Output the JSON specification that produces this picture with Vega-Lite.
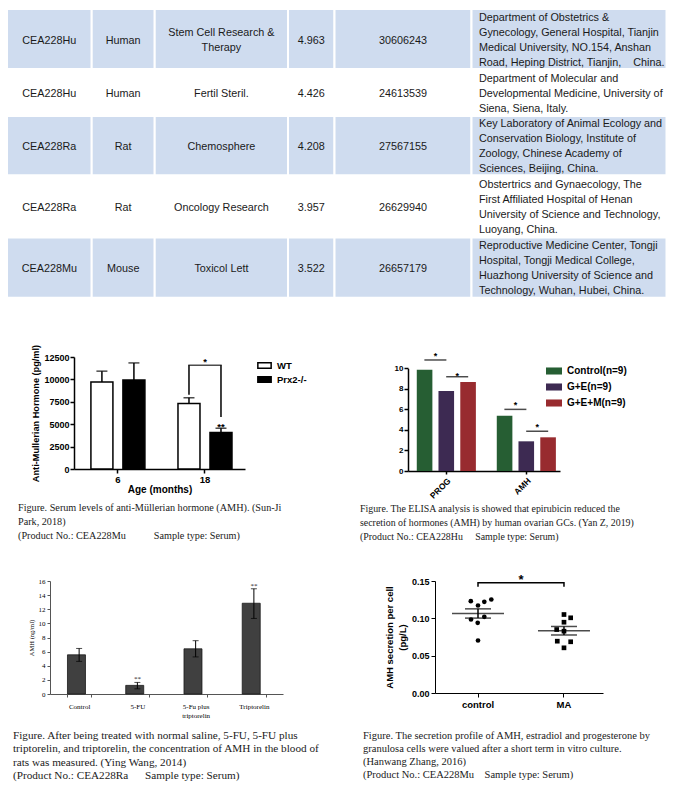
{
  "$schema": "https://vega.github.io/schema/vega-lite/v6.json",
  "background": "white",
  "padding": {"left": 6, "top": 8, "right": 0, "bottom": 0},
  "spacing": 31,
  "resolve": {"legend": {"fill": "independent", "color": "independent", "shape": "independent"}},
  "config": {
    "view": {"stroke": null},
    "axis": {"grid": false, "labelOverlap": false, "domainColor": "black", "tickColor": "black", "labelColor": "black", "titleColor": "black", "labelFont": "Liberation Sans", "titleFont": "Liberation Sans"},
    "legend": {"labelFont": "Liberation Sans", "labelColor": "black"},
    "title": {"font": "Liberation Serif", "fontWeight": "normal", "color": "#1a1a1a", "fontSize": 10.5, "lineHeight": 14, "orient": "bottom", "anchor": "start", "frame": "group"}
  },
  "datasets": {
    "tcols": [
      {"col": 1, "x0": 0, "x1": 84.7, "xt": 42.3},
      {"col": 2, "x0": 84.7, "x1": 147.7, "xt": 116.2},
      {"col": 3, "x0": 147.7, "x1": 281, "xt": 214.4},
      {"col": 4, "x0": 281, "x1": 327.5, "xt": 304.3},
      {"col": 5, "x0": 327.5, "x1": 464.5, "xt": 396},
      {"col": 6, "x0": 464.5, "x1": 659.5, "xt": 472}
    ],
    "trows": [
      {"row": 1, "y0": 0, "y1": 60, "yt": 31.7},
      {"row": 2, "y0": 60, "y1": 107, "yt": 84.5},
      {"row": 3, "y0": 107, "y1": 166.3, "yt": 137.5},
      {"row": 4, "y0": 166.3, "y1": 228.5, "yt": 198.5},
      {"row": 5, "y0": 228.5, "y1": 288.8, "yt": 259.5}
    ],
    "cells": [
      {"row": 1, "col": 1, "text": "CEA228Hu"},
      {"row": 1, "col": 2, "text": "Human"},
      {"row": 1, "col": 3, "text": ["Stem Cell Research &", "Therapy"]},
      {"row": 1, "col": 4, "text": "4.963"},
      {"row": 1, "col": 5, "text": "30606243"},
      {"row": 1, "col": 6, "text": ["Department of Obstetrics &", "Gynecology, General Hospital, Tianjin", "Medical University, NO.154, Anshan", "Road, Heping District, Tianjin,\u00a0\u00a0\u00a0\u00a0China."]},
      {"row": 2, "col": 1, "text": "CEA228Hu"},
      {"row": 2, "col": 2, "text": "Human"},
      {"row": 2, "col": 3, "text": "Fertil Steril."},
      {"row": 2, "col": 4, "text": "4.426"},
      {"row": 2, "col": 5, "text": "24613539"},
      {"row": 2, "col": 6, "text": ["Department of Molecular and", "Developmental Medicine, University of", "Siena, Siena, Italy."]},
      {"row": 3, "col": 1, "text": "CEA228Ra"},
      {"row": 3, "col": 2, "text": "Rat"},
      {"row": 3, "col": 3, "text": "Chemosphere"},
      {"row": 3, "col": 4, "text": "4.208"},
      {"row": 3, "col": 5, "text": "27567155"},
      {"row": 3, "col": 6, "text": ["Key Laboratory of Animal Ecology and", "Conservation Biology, Institute of", "Zoology, Chinese Academy of", "Sciences, Beijing, China."]},
      {"row": 4, "col": 1, "text": "CEA228Ra"},
      {"row": 4, "col": 2, "text": "Rat"},
      {"row": 4, "col": 3, "text": "Oncology Research"},
      {"row": 4, "col": 4, "text": "3.957"},
      {"row": 4, "col": 5, "text": "26629940"},
      {"row": 4, "col": 6, "text": ["Obstertrics and Gynaecology, The", "First Affiliated Hospital of Henan", "University of Science and Technology,", "Luoyang, China."]},
      {"row": 5, "col": 1, "text": "CEA228Mu"},
      {"row": 5, "col": 2, "text": "Mouse"},
      {"row": 5, "col": 3, "text": "Toxicol Lett"},
      {"row": 5, "col": 4, "text": "3.522"},
      {"row": 5, "col": 5, "text": "26657179"},
      {"row": 5, "col": 6, "text": ["Reproductive Medicine Center, Tongji", "Hospital, Tongji Medical College,", "Huazhong University of Science and", "Technology, Wuhan, Hubei, China."]}
    ],
    "c1": [
      {"age": "6", "group": "WT", "value": 9700, "upper": 10920},
      {"age": "6", "group": "Prx2-/-", "value": 9920, "upper": 11840},
      {"age": "18", "group": "WT", "value": 7320, "upper": 7950},
      {"age": "18", "group": "Prx2-/-", "value": 4070, "upper": 4550}
    ],
    "c1br": [
      {"age": "18", "group": "WT", "lo": 8274, "hi": 11585},
      {"age": "18", "group": "Prx2-/-", "lo": 5803, "hi": 11585}
    ],
    "c1star": [{"age": "18", "txt": "*", "v": 12169}],
    "c1star2": [{"age": "18", "group": "Prx2-/-", "txt": "**", "v": 4998}],
    "c2": [
      {"hormone": "PROG", "group": "Control(n=9)", "value": 9.85},
      {"hormone": "PROG", "group": "G+E(n=9)", "value": 7.8},
      {"hormone": "PROG", "group": "G+E+M(n=9)", "value": 8.66},
      {"hormone": "AMH", "group": "Control(n=9)", "value": 5.37},
      {"hormone": "AMH", "group": "G+E(n=9)", "value": 2.89},
      {"hormone": "AMH", "group": "G+E+M(n=9)", "value": 3.28}
    ],
    "c2sig": [
      {"hormone": "PROG", "side": "L", "v": 10.81, "star": 11.46},
      {"hormone": "PROG", "side": "R", "v": 9.18, "star": 9.5},
      {"hormone": "AMH", "side": "L", "v": 6.0, "star": 6.68},
      {"hormone": "AMH", "side": "R", "v": 3.88, "star": 4.46}
    ],
    "c3": [
      {"treat": "Control", "value": 5.55, "lo": 4.62, "hi": 6.45},
      {"treat": "5-FU", "value": 1.22, "lo": 0.73, "hi": 1.64},
      {"treat": "5-Fu plus triptorelin", "value": 6.4, "lo": 5.25, "hi": 7.55},
      {"treat": "Triptorelin", "value": 12.85, "lo": 10.7, "hi": 14.9}
    ],
    "c3star": [
      {"treat": "5-FU", "txt": "**", "v": 2.3},
      {"treat": "Triptorelin", "txt": "**", "v": 15.6}
    ],
    "c4pts": [
      {"grp": "control", "jit": -7.2, "v": 0.1230},
      {"grp": "control", "jit": 0, "v": 0.1172},
      {"grp": "control", "jit": 6.3, "v": 0.1221},
      {"grp": "control", "jit": 13.3, "v": 0.1252},
      {"grp": "control", "jit": -7, "v": 0.0984},
      {"grp": "control", "jit": -0.3, "v": 0.0940},
      {"grp": "control", "jit": 6.3, "v": 0.1020},
      {"grp": "control", "jit": 0, "v": 0.0703},
      {"grp": "MA", "jit": 0, "v": 0.1051},
      {"grp": "MA", "jit": 6.7, "v": 0.1007},
      {"grp": "MA", "jit": 0, "v": 0.0948},
      {"grp": "MA", "jit": -7.3, "v": 0.0850},
      {"grp": "MA", "jit": 0, "v": 0.0828},
      {"grp": "MA", "jit": -6.7, "v": 0.0694},
      {"grp": "MA", "jit": 6.7, "v": 0.0686},
      {"grp": "MA", "jit": 0, "v": 0.0605}
    ],
    "c4stats": [
      {"grp": "control", "mean": 0.1065, "lo": 0.1003, "hi": 0.1127},
      {"grp": "MA", "mean": 0.0834, "lo": 0.0777, "hi": 0.0891}
    ],
    "c4br": [
      {"grp": "control", "v": 0.1422, "ord": 1},
      {"grp": "control", "v": 0.1476, "ord": 2},
      {"grp": "MA", "v": 0.1476, "ord": 3},
      {"grp": "MA", "v": 0.1422, "ord": 4}
    ],
    "c4star": [{"grp": "control", "txt": "*", "v": 0.1564}]
  },
  "vconcat": [
    {
      "width": 616,
      "height": 304,
      "data": {"name": "cells"},
      "transform": [
        {"lookup": "col", "from": {"data": {"name": "tcols"}, "key": "col", "fields": ["x0", "x1", "xt"]}},
        {"lookup": "row", "from": {"data": {"name": "trows"}, "key": "row", "fields": ["y0", "y1", "yt"]}},
        {"calculate": "datum.yt - (isArray(datum.text) ? (length(datum.text) - 1) * 7.5 : 0)", "as": "ytop"}
      ],
      "encoding": {
        "x": {"field": "x0", "type": "quantitative", "scale": {"domain": [43, 659], "nice": false, "zero": false}, "axis": null},
        "y": {"field": "y0", "type": "quantitative", "scale": {"domain": [0, 304], "reverse": true, "nice": false, "zero": false}, "axis": null}
      },
      "layer": [
        {
          "transform": [{"filter": "datum.row % 2 == 1"}],
          "mark": {"type": "rect", "fill": "#cfdcef", "stroke": "white", "strokeWidth": 2},
          "encoding": {"x2": {"field": "x1"}, "y2": {"field": "y1"}}
        },
        {
          "transform": [{"filter": "datum.col < 6"}],
          "mark": {"type": "text", "align": "center", "baseline": "middle", "font": "Liberation Sans", "fontSize": 10.8, "lineHeight": 15, "color": "#1a1a1a"},
          "encoding": {
            "x": {"field": "xt", "type": "quantitative"},
            "y": {"field": "ytop", "type": "quantitative"},
            "text": {"field": "text"}
          }
        },
        {
          "transform": [{"filter": "datum.col == 6"}],
          "mark": {"type": "text", "align": "left", "baseline": "middle", "font": "Liberation Sans", "fontSize": 10.8, "lineHeight": 15, "color": "#1a1a1a"},
          "encoding": {
            "x": {"field": "xt", "type": "quantitative"},
            "y": {"field": "ytop", "type": "quantitative"},
            "text": {"field": "text"}
          }
        }
      ]
    },
    {
      "resolve": {"legend": {"fill": "independent", "color": "independent"}},
      "hconcat": [
        {
          "width": 195,
          "height": 112,
          "title": {"text": ["Figure. Serum levels of anti-Müllerian hormone (AMH). (Sun-Ji", "Park, 2018)", "(Product No.: CEA228Mu\u00a0\u00a0\u00a0\u00a0\u00a0\u00a0\u00a0\u00a0\u00a0\u00a0\u00a0Sample type: Serum)"], "dx": -32, "offset": 8, "fontSize": 10.2},
          "encoding": {
            "x": {"field": "age", "type": "nominal", "scale": {"type": "band", "domain": ["6", "18"], "range": [24, 195], "paddingInner": 0.356, "paddingOuter": 0.16, "align": 0.57},
              "axis": {"title": "Age (months)", "labelAngle": 0, "labelFontSize": 9.5, "labelFontWeight": "bold", "titleFontSize": 10, "titleFontWeight": "bold", "tickSize": 4, "tickWidth": 1.5, "domainWidth": 1.5, "labelPadding": 1, "titlePadding": 1}}
          },
          "layer": [
            {
              "data": {"name": "c1"},
              "transform": [{"filter": "datum.group == 'WT'"}],
              "mark": {"type": "bar", "width": 22, "xOffset": -16, "stroke": "black", "strokeWidth": 1.5},
              "encoding": {
                "y": {"field": "value", "type": "quantitative", "scale": {"domain": [0, 12500], "nice": false},
                  "axis": {"values": [0, 2500, 5000, 7500, 10000, 12500], "tickCount": 20, "format": "d", "offset": -24, "title": "Anti-Mullerian Hormone (pg/ml)", "titleFontSize": 9.2, "titleFontWeight": "bold", "labelFontSize": 9, "labelFontWeight": "bold", "tickSize": 4, "tickWidth": 1.5, "domainWidth": 1.5, "labelPadding": 1, "titlePadding": 3}},
                "fill": {"field": "group", "type": "nominal", "scale": {"domain": ["WT", "Prx2-/-"], "range": ["white", "black"]},
                  "legend": {"orient": "none", "legendX": 207, "legendY": 1, "title": null, "symbolType": "M-1,-0.42H1V0.42H-1Z", "symbolSize": 177, "symbolStrokeColor": "black", "symbolStrokeWidth": 1.5, "labelFontSize": 9.5, "labelFontWeight": "bold", "labelOffset": 5, "rowPadding": 0, "padding": 0}}
              }
            },
            {
              "data": {"name": "c1"},
              "transform": [{"filter": "datum.group == 'Prx2-/-'"}],
              "mark": {"type": "bar", "width": 22, "xOffset": 16, "stroke": "black", "strokeWidth": 1.5},
              "encoding": {
                "y": {"field": "value", "type": "quantitative"},
                "fill": {"field": "group", "type": "nominal"}
              }
            },
            {
              "data": {"name": "c1"},
              "transform": [{"filter": "datum.group == 'WT'"}],
              "mark": {"type": "rule", "xOffset": -16, "color": "black", "strokeWidth": 1.5},
              "encoding": {"y": {"field": "value", "type": "quantitative"}, "y2": {"field": "upper"}}
            },
            {
              "data": {"name": "c1"},
              "transform": [{"filter": "datum.group == 'Prx2-/-'"}],
              "mark": {"type": "rule", "xOffset": 16, "color": "black", "strokeWidth": 1.5},
              "encoding": {"y": {"field": "value", "type": "quantitative"}, "y2": {"field": "upper"}}
            },
            {
              "data": {"name": "c1"},
              "transform": [{"filter": "datum.group == 'WT'"}],
              "mark": {"type": "tick", "xOffset": -16, "color": "black", "size": 11, "thickness": 1.5},
              "encoding": {"y": {"field": "upper", "type": "quantitative"}}
            },
            {
              "data": {"name": "c1"},
              "transform": [{"filter": "datum.group == 'Prx2-/-'"}],
              "mark": {"type": "tick", "xOffset": 16, "color": "black", "size": 11, "thickness": 1.5},
              "encoding": {"y": {"field": "upper", "type": "quantitative"}}
            },
            {
              "data": {"name": "c1br"},
              "transform": [{"filter": "datum.group == 'WT'"}],
              "mark": {"type": "rule", "xOffset": -16, "color": "black", "strokeWidth": 1.5},
              "encoding": {"y": {"field": "lo", "type": "quantitative"}, "y2": {"field": "hi"}}
            },
            {
              "data": {"name": "c1br"},
              "transform": [{"filter": "datum.group == 'Prx2-/-'"}],
              "mark": {"type": "rule", "xOffset": 16, "color": "black", "strokeWidth": 1.5},
              "encoding": {"y": {"field": "lo", "type": "quantitative"}, "y2": {"field": "hi"}}
            },
            {
              "data": {"name": "c1br"},
              "transform": [{"filter": "datum.group == 'WT'"}],
              "mark": {"type": "tick", "color": "black", "size": 33.5, "thickness": 1.5},
              "encoding": {"y": {"field": "hi", "type": "quantitative"}}
            },
            {
              "data": {"name": "c1star"},
              "mark": {"type": "text", "font": "Liberation Sans", "fontSize": 9.5, "fontWeight": "bold", "baseline": "alphabetic", "dy": 5.4, "color": "black", "fill": "black"},
              "encoding": {
                "y": {"field": "v", "type": "quantitative"},
                "text": {"field": "txt"}
              }
            },
            {
              "data": {"name": "c1star2"},
              "mark": {"type": "text", "xOffset": 16, "font": "Liberation Sans", "fontSize": 9.5, "fontWeight": "bold", "baseline": "alphabetic", "dy": 5.4, "color": "black", "fill": "black"},
              "encoding": {
                "y": {"field": "v", "type": "quantitative"},
                "text": {"field": "txt"}
              }
            }
          ]
        },
        {
          "width": 152,
          "height": 114,
          "title": {"text": ["Figure. The ELISA analysis is showed that epirubicin reduced the", "secretion of hormones (AMH) by human ovarian GCs. (Yan Z, 2019)", "(Product No.: CEA228Hu\u00a0\u00a0\u00a0\u00a0\u00a0Sample type: Serum)"], "dx": -48, "offset": 4, "fontSize": 9.9},
          "encoding": {
            "x": {"field": "hormone", "type": "nominal", "scale": {"type": "band", "domain": ["PROG", "AMH"], "paddingInner": 0.25, "paddingOuter": 0.075, "align": 0.69},
              "axis": {"title": null, "labelAngle": -45, "labelFontSize": 8.5, "labelFontWeight": "bold", "tickSize": 3, "tickWidth": 1.5, "domainWidth": 1.5, "labelPadding": 2}}
          },
          "layer": [
            {
              "data": {"name": "c2"},
              "transform": [{"filter": "datum.group == 'Control(n=9)'"}],
              "mark": {"type": "bar", "width": 15.6, "xOffset": -21.7},
              "encoding": {
                "y": {"field": "value", "type": "quantitative", "stack": null, "scale": {"domain": [0, 10], "range": [114, 11.3], "nice": false},
                  "axis": {"values": [0, 2, 4, 6, 8, 10], "tickCount": 20, "format": "d", "title": null, "labelFontSize": 8, "labelFontWeight": "bold", "tickSize": 4, "tickWidth": 1.5, "domainWidth": 1.5, "labelPadding": 1}},
                "color": {"field": "group", "type": "nominal", "scale": {"domain": ["Control(n=9)", "G+E(n=9)", "G+E+M(n=9)"], "range": ["#265e33", "#3d2a52", "#982b2f"]},
                  "legend": {"orient": "none", "legendX": 138, "legendY": 6, "title": null, "symbolType": "M-1,-0.44H1V0.44H-1Z", "symbolSize": 256, "symbolStrokeWidth": 0, "labelFontSize": 10, "labelFontWeight": "bold", "labelOffset": 5, "rowPadding": 3, "padding": 0}}
              }
            },
            {
              "data": {"name": "c2"},
              "transform": [{"filter": "datum.group == 'G+E(n=9)'"}],
              "mark": {"type": "bar", "width": 15.6, "xOffset": 0},
              "encoding": {
                "y": {"field": "value", "type": "quantitative", "stack": null},
                "color": {"field": "group", "type": "nominal"}
              }
            },
            {
              "data": {"name": "c2"},
              "transform": [{"filter": "datum.group == 'G+E+M(n=9)'"}],
              "mark": {"type": "bar", "width": 15.6, "xOffset": 21.8},
              "encoding": {
                "y": {"field": "value", "type": "quantitative", "stack": null},
                "color": {"field": "group", "type": "nominal"}
              }
            },
            {
              "data": {"name": "c2sig"},
              "transform": [{"filter": "datum.side == 'L'"}],
              "mark": {"type": "tick", "xOffset": -10.9, "size": 22, "thickness": 1.5, "color": "black"},
              "encoding": {"y": {"field": "v", "type": "quantitative"}}
            },
            {
              "data": {"name": "c2sig"},
              "transform": [{"filter": "datum.side == 'R'"}],
              "mark": {"type": "tick", "xOffset": 10.9, "size": 22, "thickness": 1.5, "color": "black"},
              "encoding": {"y": {"field": "v", "type": "quantitative"}}
            },
            {
              "data": {"name": "c2sig"},
              "transform": [{"filter": "datum.side == 'L'"}],
              "mark": {"type": "text", "text": "*", "xOffset": -10.9, "font": "Liberation Sans", "fontSize": 9, "fontWeight": "bold", "baseline": "alphabetic", "dy": 5.2, "color": "black", "fill": "black"},
              "encoding": {"y": {"field": "star", "type": "quantitative"}}
            },
            {
              "data": {"name": "c2sig"},
              "transform": [{"filter": "datum.side == 'R'"}],
              "mark": {"type": "text", "text": "*", "xOffset": 10.9, "font": "Liberation Sans", "fontSize": 9, "fontWeight": "bold", "baseline": "alphabetic", "dy": 5.2, "color": "black", "fill": "black"},
              "encoding": {"y": {"field": "star", "type": "quantitative"}}
            }
          ]
        }
      ],
      "spacing": 163,
      "bounds": "flush"
    },
    {
      "resolve": {"legend": {"shape": "independent"}},
      "hconcat": [
        {
          "width": 233,
          "height": 113,
          "title": {"text": ["Figure. After being treated with normal saline, 5-FU, 5-FU plus", "triptorelin, and triptorelin, the concentration of AMH in the blood of", "rats was measured. (Ying Wang, 2014)", "(Product No.: CEA228Ra\u00a0\u00a0\u00a0\u00a0\u00a0\u00a0Sample type: Serum)"], "dx": -37, "offset": 12, "lineHeight": 13.3, "fontSize": 11.2},
          "layer": [
            {
              "data": {"name": "c3"},
              "mark": {"type": "bar", "fill": "#404040", "stroke": "#1a1a1a", "strokeWidth": 0.8},
              "encoding": {
                "x": {"field": "treat", "type": "nominal", "scale": {"type": "band", "domain": ["Control", "5-FU", "5-Fu plus triptorelin", "Triptorelin"], "paddingInner": 0.6, "paddingOuter": 0.3},
                  "axis": {"title": null, "labelAngle": 0, "labelFont": "Liberation Serif", "labelFontSize": 7, "tickBand": "extent", "tickSize": 3, "labelPadding": 5, "domainColor": "#555", "tickColor": "#555", "domainWidth": 1, "labelLineHeight": 9,
                    "labelExpr": "datum.label == '5-Fu plus triptorelin' ? ['5-Fu plus', 'triptorelin'] : datum.label"}},
                "y": {"field": "value", "type": "quantitative", "scale": {"domain": [0, 16], "nice": false},
                  "axis": {"values": [0, 2, 4, 6, 8, 10, 12, 14, 16], "tickCount": 20, "title": "AMH (ng/ml)", "titleFont": "Liberation Serif", "titleFontSize": 6.5, "titleFontWeight": "normal", "labelFont": "Liberation Serif", "labelFontSize": 7, "tickSize": 3, "domainColor": "#555", "tickColor": "#555", "labelPadding": 2, "titlePadding": 4}}
              }
            },
            {
              "data": {"name": "c3"},
              "mark": {"type": "rule", "color": "black", "strokeWidth": 1},
              "encoding": {
                "x": {"field": "treat", "type": "nominal"},
                "y": {"field": "lo", "type": "quantitative"},
                "y2": {"field": "hi"}
              }
            },
            {
              "data": {"name": "c3"},
              "mark": {"type": "tick", "color": "black", "size": 6, "thickness": 1},
              "encoding": {
                "x": {"field": "treat", "type": "nominal"},
                "y": {"field": "hi", "type": "quantitative"}
              }
            },
            {
              "data": {"name": "c3"},
              "mark": {"type": "tick", "color": "black", "size": 6, "thickness": 1},
              "encoding": {
                "x": {"field": "treat", "type": "nominal"},
                "y": {"field": "lo", "type": "quantitative"}
              }
            },
            {
              "data": {"name": "c3star"},
              "mark": {"type": "text", "font": "Liberation Serif", "fontSize": 7, "baseline": "alphabetic", "dy": 3.7, "color": "#222", "fill": "#222"},
              "encoding": {
                "x": {"field": "treat", "type": "nominal"},
                "y": {"field": "v", "type": "quantitative"},
                "text": {"field": "txt"}
              }
            }
          ]
        },
        {
          "width": 168,
          "height": 112,
          "title": {"text": ["Figure. The secretion profile of AMH, estradiol and progesterone by", "granulosa cells were valued after a short term in vitro culture.", "(Hanwang Zhang, 2016)", "(Product No.: CEA228Mu\u00a0\u00a0\u00a0\u00a0Sample type: Serum)"], "dx": -72, "offset": 22, "lineHeight": 13.3, "fontSize": 10.5},
          "layer": [
            {
              "data": {"name": "c4pts"},
              "mark": {"type": "point", "filled": true, "size": 22, "color": "black", "opacity": 1},
              "encoding": {
                "x": {"field": "grp", "type": "nominal", "scale": {"type": "band", "domain": ["control", "MA"], "paddingInner": 0.5, "paddingOuter": 0.227, "align": 0.551},
                  "axis": {"title": null, "labelAngle": 0, "labelFontSize": 9.5, "labelFontWeight": "bold", "tickSize": 4, "domainWidth": 1, "labelPadding": 2}},
                "xOffset": {"field": "jit", "type": "quantitative", "scale": {"domain": [-21.5, 21.5], "range": [0, 43]}},
                "y": {"field": "v", "type": "quantitative", "scale": {"domain": [0, 0.15], "nice": false},
                  "axis": {"values": [0, 0.05, 0.1, 0.15], "tickCount": 20, "format": ".2f", "title": ["AMH secretion per cell", "(pg/L)"], "titleFontSize": 9.5, "titleFontWeight": "bold", "titleLineHeight": 13, "labelFontSize": 9, "labelFontWeight": "bold", "tickSize": 4, "labelPadding": 2, "titlePadding": 4}},
                "shape": {"field": "grp", "type": "nominal", "scale": {"domain": ["control", "MA"], "range": ["circle", "square"]}, "legend": null}
              }
            },
            {
              "data": {"name": "c4stats"},
              "mark": {"type": "tick", "color": "black", "size": 52, "thickness": 1.5},
              "encoding": {
                "x": {"field": "grp", "type": "nominal"},
                "y": {"field": "mean", "type": "quantitative"}
              }
            },
            {
              "data": {"name": "c4stats"},
              "mark": {"type": "tick", "color": "black", "size": 26, "thickness": 1.5},
              "encoding": {
                "x": {"field": "grp", "type": "nominal"},
                "y": {"field": "lo", "type": "quantitative"}
              }
            },
            {
              "data": {"name": "c4stats"},
              "mark": {"type": "tick", "color": "black", "size": 26, "thickness": 1.5},
              "encoding": {
                "x": {"field": "grp", "type": "nominal"},
                "y": {"field": "hi", "type": "quantitative"}
              }
            },
            {
              "data": {"name": "c4stats"},
              "mark": {"type": "rule", "color": "black", "strokeWidth": 1.5},
              "encoding": {
                "x": {"field": "grp", "type": "nominal"},
                "y": {"field": "lo", "type": "quantitative"},
                "y2": {"field": "hi"}
              }
            },
            {
              "data": {"name": "c4br"},
              "mark": {"type": "line", "color": "black", "strokeWidth": 1.5},
              "encoding": {
                "x": {"field": "grp", "type": "nominal"},
                "y": {"field": "v", "type": "quantitative"},
                "order": {"field": "ord", "type": "quantitative"}
              }
            },
            {
              "data": {"name": "c4star"},
              "mark": {"type": "text", "font": "Liberation Sans", "fontSize": 13, "fontWeight": "bold", "baseline": "alphabetic", "dx": 43, "dy": 7.4, "color": "black", "fill": "black"},
              "encoding": {
                "x": {"field": "grp", "type": "nominal"},
                "y": {"field": "v", "type": "quantitative"},
                "text": {"field": "txt"}
              }
            }
          ]
        }
      ],
      "spacing": 152,
      "bounds": "flush"
    }
  ]
}
